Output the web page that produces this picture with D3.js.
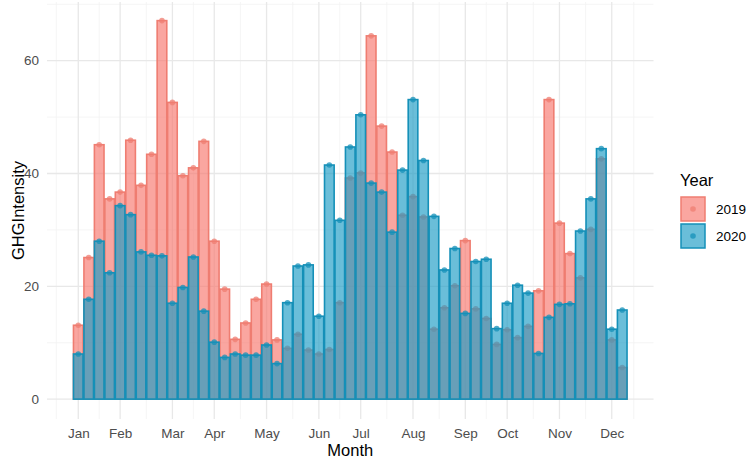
<!DOCTYPE html>
<html>
  <head>
	<meta charset="utf-8">
    <title>GHG Intensity by week</title>
    <script src="https://cdnjs.cloudflare.com/ajax/libs/d3/7.8.5/d3.min.js"></script>
  	<style>
		body{ margin:0; background:#fff; }
		svg{ display:block; font-family:"Liberation Sans", Arial, sans-serif; }
	</style>
  </head>
  <body>
    <div id="diagram"></div>
    <script>
		// week numbers (one bar per week)
		var weeks = d3.range(1, 54);
		var years = ["2019", "2020"];

		var values2019 = [13.1, 25.1, 45.1, 35.5, 36.7, 45.9, 37.9, 43.4, 67.1, 52.6,
						  39.6, 41.0, 45.7, 28.0, 19.5, 10.6, 13.5, 17.7, 20.4, 10.5,
						  9.0, 11.5, 8.7, 8.0, 8.8, 17.1, 39.2, 40.1, 64.4, 48.4,
						  43.8, 32.6, 35.9, 32.3, 12.4, 16.2, 20.1, 28.1, 16.0, 14.3,
						  9.7, 12.3, 10.9, 12.9, 19.2, 53.1, 31.2, 25.8, 21.5, 30.1,
						  42.6, 10.5, 5.6];
		var values2020 = [8.0, 17.7, 28.0, 22.4, 34.3, 32.7, 26.1, 25.5, 25.4, 17.0,
						  19.8, 25.2, 15.6, 10.1, 7.4, 8.0, 7.8, 7.8, 9.6, 6.3,
						  17.1, 23.6, 23.8, 14.7, 41.5, 31.7, 44.7, 50.4, 38.3, 36.7,
						  29.6, 40.6, 53.1, 42.3, 32.4, 22.9, 26.7, 15.2, 24.4, 24.8,
						  12.5, 17.0, 20.2, 18.8, 8.1, 14.5, 16.8, 16.9, 29.8, 35.5,
						  44.4, 12.4, 15.8];

		var monthLabels = ["Jan","Feb","Mar","Apr","May","Jun","Jul","Aug","Sep","Oct","Nov","Dec"];
		var monthWeeks = [1, 5, 10, 14, 19, 24, 28, 33, 38, 42, 47, 52];
		var yTicks = [0, 20, 40, 60];
		var yMinor = [10, 30, 50, 70];

		var fills = {"2019": "#F8766D", "2020": "#1A9BC4"};
		var strokes = {"2019": "#EF7D71", "2020": "#1590B8"};

		var W = 748, H = 460;
		var panel = {left: 47, right: 653.5, top: 2, bottom: 419};

		var svg = d3.select("#diagram").append("svg")
					.attr("width", W)
					.attr("height", H);
		svg.append("rect").attr("width", W).attr("height", H).attr("fill", "#fff");

		var xScale = d3.scaleLinear().domain([-1.99, 55.99]).range([panel.left, panel.right]);
		var yScale = d3.scaleLinear().domain([-3.52, 70.4]).range([panel.bottom, panel.top]);

		// minor x breaks: midpoints, plus one on each end
		var xMinor = [monthWeeks[0] - 2.1];
		for (var i = 0; i < monthWeeks.length - 1; i++) {
			xMinor.push((monthWeeks[i] + monthWeeks[i+1]) / 2);
		}
		xMinor.push(monthWeeks[monthWeeks.length-1] + 2.1);

		var grid = svg.append("g");
		grid.selectAll(".ymin").data(yMinor).enter().append("line")
			.attr("x1", panel.left).attr("x2", panel.right)
			.attr("y1", d => yScale(d)).attr("y2", d => yScale(d))
			.attr("stroke", "#F2F2F2").attr("stroke-width", 0.8);
		grid.selectAll(".xmin").data(xMinor).enter().append("line")
			.attr("x1", d => xScale(d)).attr("x2", d => xScale(d))
			.attr("y1", panel.top).attr("y2", panel.bottom)
			.attr("stroke", "#F2F2F2").attr("stroke-width", 0.8);
		grid.selectAll(".ymaj").data(yTicks).enter().append("line")
			.attr("x1", panel.left).attr("x2", panel.right)
			.attr("y1", d => yScale(d)).attr("y2", d => yScale(d))
			.attr("stroke", "#E8E8E8").attr("stroke-width", 1.3);
		grid.selectAll(".xmaj").data(monthWeeks).enter().append("line")
			.attr("x1", d => xScale(d)).attr("x2", d => xScale(d))
			.attr("y1", panel.top).attr("y2", panel.bottom)
			.attr("stroke", "#E8E8E8").attr("stroke-width", 1.3);

		var series = {"2019": values2019, "2020": values2020};
		var half = 0.46;

		years.forEach(function(yr){
			var data = weeks.map((w, i) => ({week: w, value: series[yr][i]}));
			var g = svg.append("g");
			g.selectAll("rect").data(data).enter().append("rect")
				.attr("x", d => xScale(d.week - half))
				.attr("width", d => xScale(d.week + half) - xScale(d.week - half))
				.attr("y", d => yScale(d.value))
				.attr("height", d => yScale(0) - yScale(d.value))
				.attr("fill", fills[yr]).attr("fill-opacity", 0.65)
				.attr("stroke", strokes[yr]).attr("stroke-width", 1.6);
			g.selectAll("circle").data(data).enter().append("circle")
				.attr("cx", d => xScale(d.week))
				.attr("cy", d => yScale(d.value))
				.attr("r", 2.8)
				.attr("fill", strokes[yr]).attr("fill-opacity", 0.75);
		});

		// axes (theme_minimal: no ticks, no lines)
		var xAxis = d3.axisBottom(xScale).tickValues(monthWeeks)
					.tickFormat((d, i) => monthLabels[i]).tickSize(0).tickPadding(0);
		var xAxisGroup = svg.append("g")
			.attr("transform", "translate(0," + (panel.bottom + 9) + ")")
			.call(xAxis);
		var yAxis = d3.axisLeft(yScale).tickValues(yTicks).tickSize(0).tickPadding(0);
		var yAxisGroup = svg.append("g")
			.attr("transform", "translate(39,0)")
			.call(yAxis);
		[xAxisGroup, yAxisGroup].forEach(function(a){
			a.select(".domain").remove();
			a.selectAll("text").attr("fill", "#4D4D4D")
				.style("font-size", "13.5px").style("font-family", "Liberation Sans, Arial, sans-serif");
		});

		svg.append("text").text("Month")
			.attr("x", (panel.left + panel.right) / 2)
			.attr("y", 456)
			.attr("text-anchor", "middle")
			.style("font-size", "16.5px");
		svg.append("text").text("GHGIntensity")
			.attr("transform", "translate(24," + ((panel.top + panel.bottom) / 2) + ") rotate(-90)")
			.attr("text-anchor", "middle")
			.style("font-size", "16.5px");

		// legend
		var legend = svg.append("g").attr("transform", "translate(668,0)");
		legend.append("text").text("Year").attr("x", 12).attr("y", 186).style("font-size", "16.5px");
		years.forEach(function(yr, i){
			var top = 197 + i * 27;
			legend.append("rect")
				.attr("x", 13).attr("y", top).attr("width", 24).attr("height", 24)
				.attr("fill", fills[yr]).attr("fill-opacity", 0.65)
				.attr("stroke", strokes[yr]).attr("stroke-width", 1.5);
			legend.append("circle")
				.attr("cx", 25).attr("cy", top + 12).attr("r", 2.8)
				.attr("fill", strokes[yr]).attr("fill-opacity", 0.75);
			legend.append("text").text(yr)
				.attr("x", 48).attr("y", top + 12).attr("dy", "0.35em")
				.style("font-size", "13.5px");
		});
	</script>
  </body>
</html>
